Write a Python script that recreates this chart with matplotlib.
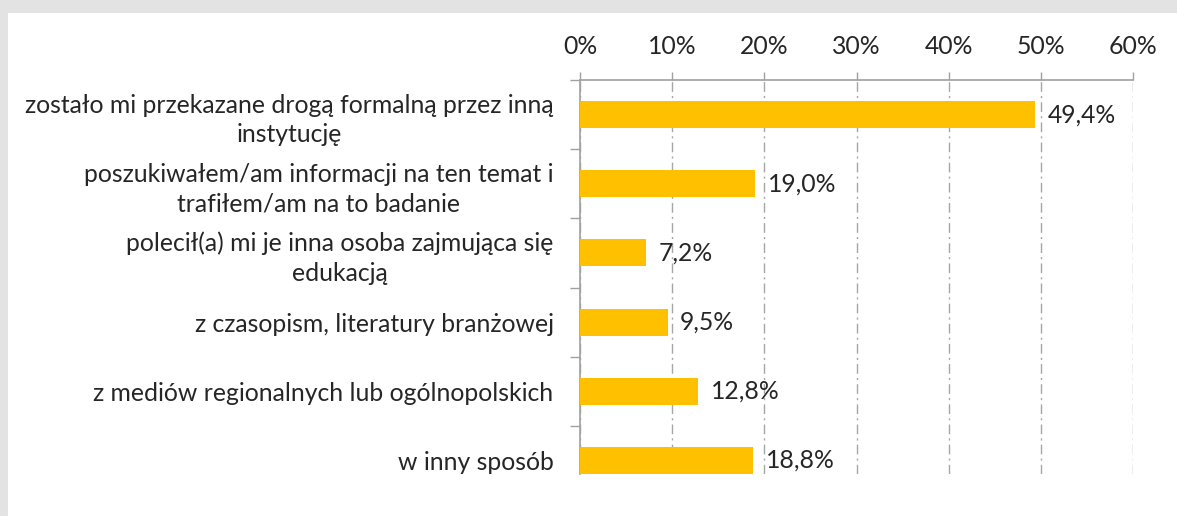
import matplotlib.pyplot as plt
from matplotlib.patches import Rectangle
from matplotlib.ticker import FixedLocator, PercentFormatter

plt.rcParams['font.family'] = ['Lato', 'DejaVu Sans']

# answers (top to bottom) and shares in %
labels = ['zostało mi przekazane drogą formalną przez inną\ninstytucję',
          'poszukiwałem/am informacji na ten temat i\ntrafiłem/am na to badanie',
          'polecił(a) mi je inna osoba zajmująca się\nedukacją',
          'z czasopism, literatury branżowej',
          'z mediów regionalnych lub ogólnopolskich',
          'w inny sposób']
values = [49.4, 19.0, 7.2, 9.5, 12.8, 18.8]
xticks = [0, 10, 20, 30, 40, 50, 60]

bar_col = '#FFC000'
txt_col = '#262626'
line_col = '#a0a0a0'
fs = 17.8

fig = plt.figure(figsize=(11.77, 5.16), dpi=100)
fig.patch.set_facecolor('#e3e3e3')
# white chart area inside the grey frame
fig.add_artist(Rectangle((8/1177, 0), 1 - 8/1177, 1 - 13/516,
                         transform=fig.transFigure, facecolor='white',
                         edgecolor='none', zorder=-5))

ax = fig.add_axes([580/1177, 1 - 474/516, 553/1177, 394/516])
ax.set_facecolor('none')

pos = list(range(len(values)))
bh = 0.39
ax.barh(pos, values, height=bh, color=bar_col, zorder=3)
ax.set_xlim(0, 60)
ax.set_ylim(pos[-1] + bh/2, -0.5)

for p, v in zip(pos, values):
    ax.annotate(f'{v:.1f}%'.replace('.', ','), (v, p), xytext=(9, 0),
                textcoords='offset points', va='center', ha='left',
                fontsize=fs, color=txt_col)

# x axis on top
ax.xaxis.tick_top()
ax.xaxis.set_major_locator(FixedLocator(xticks))
ax.xaxis.set_major_formatter(PercentFormatter(decimals=0))
ax.tick_params(axis='x', length=6, width=1, color=line_col, labelsize=fs,
               labelcolor=txt_col, pad=10)
ax.grid(axis='x', color='#a6a6a6', linewidth=1, dashes=(7, 3, 1.5, 3), zorder=1)

# categories: labels at centres, tick marks between bands
ax.set_yticks(pos)
ax.set_yticklabels(labels, fontsize=fs, color=txt_col, linespacing=1.35,
                   multialignment='center')
ax.tick_params(axis='y', which='major', length=0, pad=19)
ax.set_yticks([p - 0.5 for p in pos], minor=True)
ax.tick_params(axis='y', which='minor', length=7, width=1, color=line_col)

for s in ['right', 'bottom']:
    ax.spines[s].set_visible(False)
for s in ['left', 'top']:
    ax.spines[s].set_color(line_col)
    ax.spines[s].set_linewidth(1.2)

fig.savefig('out.png', dpi=100, facecolor=fig.get_facecolor())
